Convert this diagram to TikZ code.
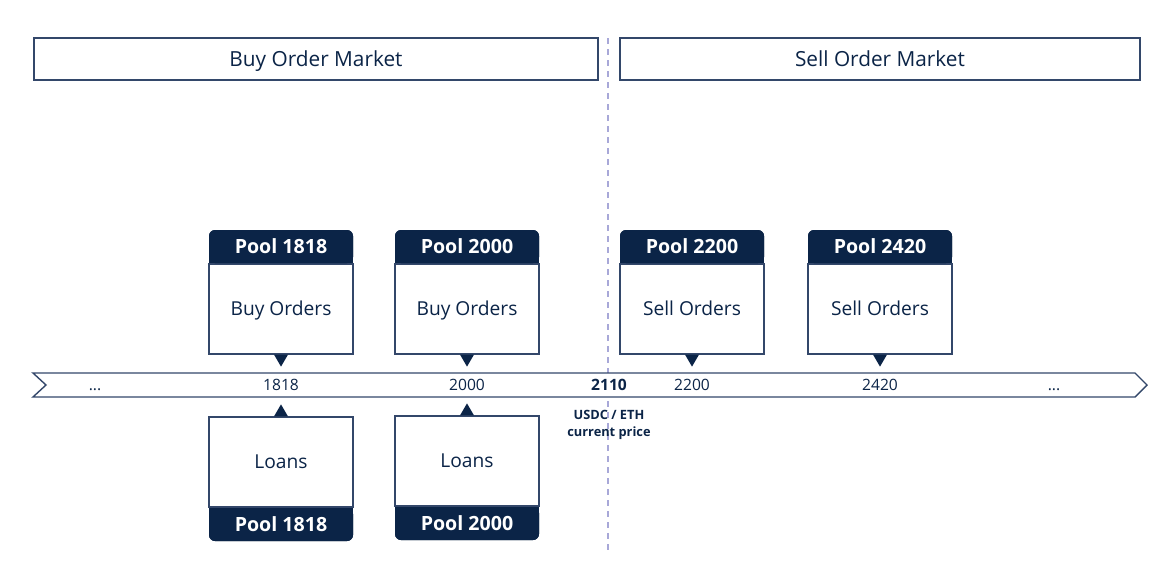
\documentclass[tikz,border=0pt]{standalone}
\usepackage{fontspec}
\setmainfont{Open Sans}
\usetikzlibrary{positioning}
\definecolor{navy}{HTML}{0B2447}
\definecolor{frame}{HTML}{33476A}
\definecolor{lavender}{HTML}{A8A8D8}
\tikzset{
  market/.style={draw=frame, line width=0.6pt, minimum width=#1, minimum height=21pt,
    inner sep=0pt, text height=7.4pt, text depth=0pt, text=navy,
    font=\fontsize{10.4}{12}\selectfont},
  poolbody/.style={draw=frame, line width=0.6pt, fill=white, minimum width=72pt,
    minimum height=45pt, inner sep=0pt, text height=6.9pt, text depth=0pt, text=navy,
    font=\fontsize{9.6}{11}\selectfont},
  poolhead/.style={fill=navy, rounded corners=3pt, minimum width=72pt, minimum height=16.5pt,
    inner sep=0pt, text height=7pt, text depth=0pt, text=white,
    font=\fontsize{9.8}{11}\selectfont\bfseries},
  tick/.style={text=navy, inner sep=0pt, text height=5.6pt, text depth=0pt,
    font=\fontsize{7.8}{9}\selectfont},
}
\begin{document}
\begin{tikzpicture}[x=0.5pt,y=-0.5pt]
\useasboundingbox[fill=white] (0,0) rectangle (1169,579);
% markets
\node[market=282pt] (M-buy) at (316,59) {Buy Order Market};
\node[market=260pt] (M-sell) at (880,59) {Sell Order Market};
\draw[lavender, line width=0.7pt, dash pattern=on 3pt off 2.5pt] (608,38) -- (608,552);
% price line
\draw[frame, line width=0.7pt, fill=white] (33,373) -- (1135,373) -- (1147,385)
  -- (1135,397) -- (33,397) -- (46,385) -- cycle;
\node[tick] (V-left) at (95,385) {...};
\node[tick] (V-right) at (1054,385) {...};
\foreach \X/\N in {281/1818,467/2000,692/2200,880/2420}
  \node[tick] (V-\N) at (\X,385) {\N};
\node[tick, font=\fontsize{7.8}{9}\selectfont\bfseries] (V-now) at (609,385) {2110};
\node[tick, text height=, font=\fontsize{6.4}{8.4}\selectfont\bfseries, align=center,
  below=9.5pt of V-now] (price) {USDC / ETH\\current price};
% order pools
\foreach \X/\P/\T in {281/1818/Buy,467/2000/Buy,692/2200/Sell,880/2420/Sell}{
  \node[poolbody] (B-\P) at (\X,309) {\T\ Orders};
  \node[poolhead, above=0pt of B-\P] (H-\P) {Pool \P};
  \fill[navy] (H-\P.west) rectangle (H-\P.south east);
  \node[poolhead, above=0pt of B-\P] {Pool \P};
  \fill[navy] (B-\P.south) ++(-7,0) -- ++(14,0) -- ++(-7,12) -- cycle;
}
% loan pools
\foreach \X/\Y/\P in {281/462/1818,467/461/2000}{
  \node[poolbody] (L-\P) at (\X,\Y) {Loans};
  \node[poolhead, below=0pt of L-\P] (F-\P) {Pool \P};
  \fill[navy] (F-\P.west) rectangle (F-\P.north east);
  \node[poolhead, below=0pt of L-\P] {Pool \P};
  \fill[navy] (L-\P.north) ++(-7,0) -- ++(14,0) -- ++(-7,-12) -- cycle;
}
\end{tikzpicture}
\end{document}
